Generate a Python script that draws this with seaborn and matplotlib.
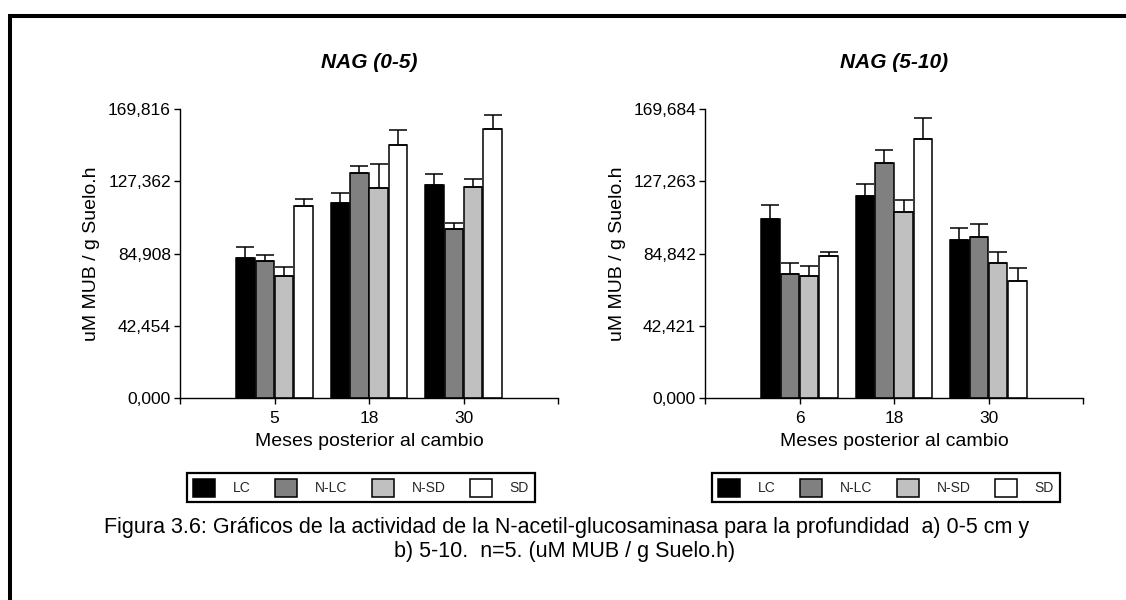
import numpy as np
import pandas as pd
import matplotlib
matplotlib.use("Agg")
import matplotlib.pyplot as plt
from matplotlib.lines import Line2D
import seaborn as sns

# ---- data -------------------------------------------------------------
treatments = ["LC", "N-LC", "N-SD", "SD"]
colors = ["#000000", "#808080", "#c0c0c0", "#ffffff"]

months_a = ["5", "18", "30"]
mean_a = {
    "LC":   [82.4, 114.7, 125.3],
    "N-LC": [80.6, 132.4, 99.4],
    "N-SD": [71.8, 123.5, 124.1],
    "SD":   [112.9, 148.8, 158.2],
}
err_a = {
    "LC":   [6.5, 5.9, 6.5],
    "N-LC": [3.5, 4.1, 3.5],
    "N-SD": [5.3, 14.1, 4.7],
    "SD":   [4.1, 8.8, 8.2],
}
yticks_a = [0.0, 42.454, 84.908, 127.362, 169.816]
yticklabels_a = ["0,000", "42,454", "84,908", "127,362", "169,816"]

months_b = ["6", "18", "30"]
mean_b = {
    "LC":   [105.3, 118.8, 92.9],
    "N-LC": [72.9, 138.2, 94.7],
    "N-SD": [71.8, 109.4, 79.4],
    "SD":   [83.5, 151.8, 68.8],
}
err_b = {
    "LC":   [8.2, 7.1, 7.1],
    "N-LC": [6.5, 7.6, 7.6],
    "N-SD": [5.9, 7.1, 6.5],
    "SD":   [2.4, 12.4, 7.6],
}
yticks_b = [0.0, 42.421, 84.842, 127.263, 169.684]
yticklabels_b = ["0,000", "42,421", "84,842", "127,263", "169,684"]

titles = ["NAG (0-5)", "NAG (5-10)"]
ylabel = "uM MUB / g Suelo.h"
xlabel = "Meses posterior al cambio"
caption = ["Figura 3.6: Gráficos de la actividad de la N-acetil-glucosaminasa para la profundidad  a) 0-5 cm y",
           "b) 5-10.  n=5. (uM MUB / g Suelo.h)"]

# ---- style ------------------------------------------------------------
sns.set_theme(style="white")
plt.rcParams["font.family"] = ["Liberation Sans", "DejaVu Sans"]

W, H = 1126, 600
fig = plt.figure(figsize=(W / 100, H / 100), dpi=100)
fig.patch.set_facecolor("white")


def fx(px):
    return px / W


def fy(px):
    return 1 - px / H


palette = dict(zip(treatments, colors))


def panel(left_px, months, means, errs, yticks, ylabels, title):
    ax = fig.add_axes([fx(left_px), fy(398), fx(378), 289 / H])
    df = pd.DataFrame(
        [(m, t, means[t][i]) for t in treatments for i, m in enumerate(months)],
        columns=["mes", "trat", "valor"],
    )
    sns.barplot(data=df, x="mes", y="valor", hue="trat", order=months,
                hue_order=treatments, palette=palette, errorbar=None,
                width=0.82, gap=0.05, edgecolor="black", linewidth=1.1,
                saturation=1, legend=False, ax=ax)
    bar_groups = list(ax.containers)
    # upward-only error bars centred on each bar
    for cont, t in zip(bar_groups, treatments):
        xs = [b.get_x() + b.get_width() / 2 for b in cont.patches]
        hs = [b.get_height() for b in cont.patches]
        ax.errorbar(xs, hs, yerr=[np.zeros(len(hs)), errs[t]], fmt="none",
                    ecolor="black", elinewidth=1.1, capsize=6.4,
                    capthick=1.1, zorder=3)
    ax.set_xlim(-1, 3)
    ax.set_ylim(0, yticks[-1])
    ax.set_xticks([-1, 0, 1, 2, 3])
    ax.set_xticklabels([""] + months + [""])
    ax.set_yticks(yticks)
    ax.set_yticklabels(ylabels)
    ax.tick_params(axis="both", which="major", direction="out", length=4.5,
                   width=1.0, color="black", labelsize=12.5, labelcolor="black",
                   left=True, bottom=True)
    ax.tick_params(axis="x", pad=5)
    ax.tick_params(axis="y", pad=2)
    sns.despine(ax=ax)
    for s in ("left", "bottom"):
        ax.spines[s].set_color("black")
        ax.spines[s].set_linewidth(1.0)
    ax.set_facecolor("white")
    ax.set_xlabel(xlabel, fontsize=14, color="black")
    ax.xaxis.set_label_coords(0.5, -(441 - 398) / 289)
    ax.xaxis.label.set_va("center")
    ax.set_ylabel(ylabel, fontsize=14, color="black")
    ax.yaxis.set_label_coords(-(180 - 92) / 378, 0.5)
    ax.yaxis.label.set_va("center")
    fig.text(fx(left_px + 189), fy(62), title, ha="center", va="center",
             fontsize=15, fontweight="bold", fontstyle="italic", color="black")
    handles = [c.patches[0] for c in bar_groups]
    leg = ax.legend(handles, treatments, loc="upper left",
                    bbox_to_anchor=(fx(left_px + 7), fy(473)),
                    bbox_transform=fig.transFigure, ncol=4, fontsize=10,
                    frameon=True, fancybox=False, framealpha=1,
                    edgecolor="black", borderpad=0.42, borderaxespad=0,
                    handlelength=1.58, handleheight=1.58,
                    handletextpad=1.3, columnspacing=1.75)
    leg.get_frame().set_linewidth(1.6)
    return ax


panel(180, months_a, mean_a, err_a, yticks_a, yticklabels_a, titles[0])
panel(705, months_b, mean_b, err_b, yticks_b, yticklabels_b, titles[1])

# caption
fig.text(fx(567), fy(528), caption[0], ha="center", va="center",
         fontsize=15.5, color="black")
fig.text(fx(565), fy(551), caption[1], ha="center", va="center",
         fontsize=15.5, color="black")

# page border (top and left edges)
fig.add_artist(Line2D([fx(8), 1.0], [fy(16), fy(16)], color="black",
                      linewidth=2.9, solid_capstyle="butt",
                      transform=fig.transFigure))
fig.add_artist(Line2D([fx(10), fx(10)], [fy(14), 0.0], color="black",
                      linewidth=2.9, solid_capstyle="butt",
                      transform=fig.transFigure))

fig.savefig("out.png", dpi=100, facecolor="white")
